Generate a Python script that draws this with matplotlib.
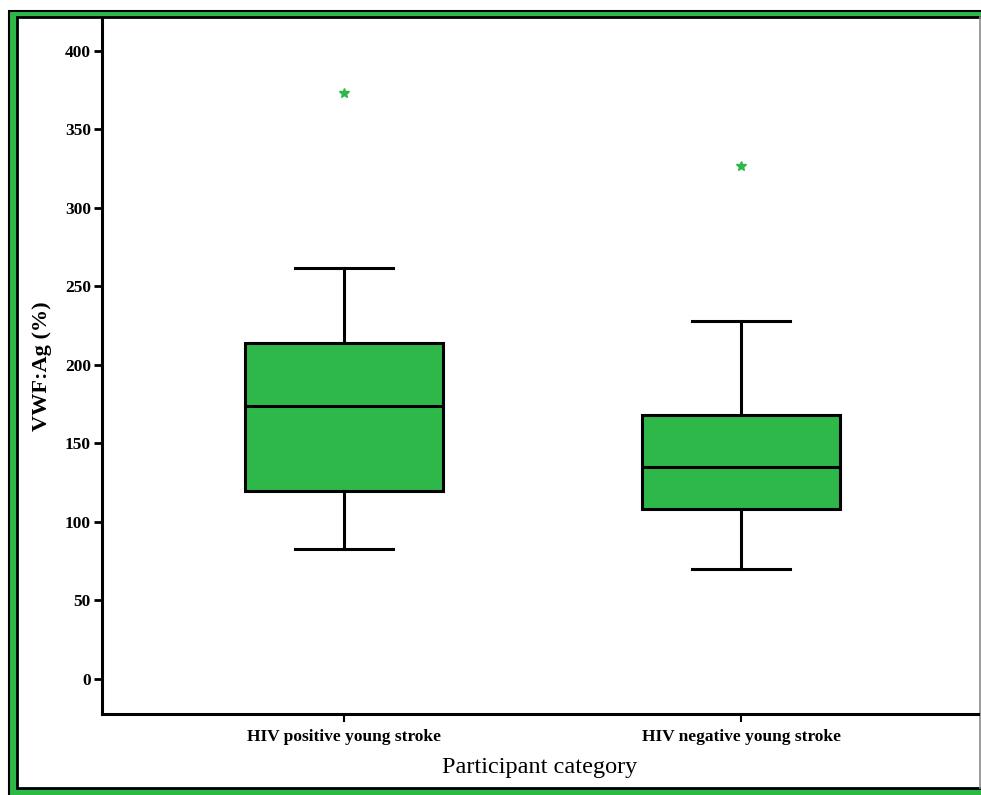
import matplotlib
matplotlib.use("Agg")
import matplotlib.pyplot as plt
from matplotlib.patches import Rectangle
from matplotlib.lines import Line2D

categories = ["HIV positive young stroke", "HIV negative young stroke"]
whislo = [83, 70]
q1 = [120, 108]
med = [174, 135]
q3 = [214, 168]
whishi = [262, 228]
outliers = [[373], [327]]
yticks = [0, 50, 100, 150, 200, 250, 300, 350, 400]

GREEN = "#2fb84a"
W, H = 981, 795
fig = plt.figure(figsize=(W / 100, H / 100), dpi=100)
fig.patch.set_facecolor("white")

# Outer decorative frame (pixel coordinates)
fig.add_artist(Rectangle((9, -10), 1000, H - 11 + 10, transform=None,
                         facecolor=GREEN, edgecolor="black", linewidth=1.5, zorder=-3))
fig.add_artist(Rectangle((17, H - 788), 1000, 788 - 17, transform=None,
                         facecolor="white", edgecolor="black", linewidth=2, zorder=-2))
fig.add_artist(Line2D([979.5, 979.5], [H - 788, H - 17], transform=None,
                      color="#8a8a8a", linewidth=1.2, zorder=-1))

ax = fig.add_axes([102 / W, (H - 714) / H, (978 - 102) / W, (714 - 18) / H])
ax.set_facecolor("none")

stats = []
for i, c in enumerate(categories):
    stats.append(dict(label=c, whislo=whislo[i], q1=q1[i], med=med[i], q3=q3[i],
                      whishi=whishi[i], fliers=outliers[i]))

ax.bxp(stats, positions=[1, 2], widths=0.5, patch_artist=True,
       boxprops=dict(facecolor=GREEN, edgecolor="black", linewidth=2.2),
       medianprops=dict(color="black", linewidth=2.2),
       whiskerprops=dict(color="black", linewidth=2.2),
       capprops=dict(color="black", linewidth=2.2),
       capwidths=0.245,
       flierprops=dict(marker="*", markerfacecolor=GREEN, markeredgecolor=GREEN,
                       markersize=7.5, linestyle="none"))

ax.set_xlim(0.39, 2.597)
ax.set_ylim(-22.3, 421)
ax.set_yticks(yticks)
ax.set_xticks([1, 2])
ax.set_xticklabels(categories)

for s in ["top", "right"]:
    ax.spines[s].set_visible(False)
for s in ["left", "bottom"]:
    ax.spines[s].set_linewidth(2.2)

serif = ["Liberation Serif", "DejaVu Serif"]
ax.tick_params(axis="y", length=6, width=2, labelsize=12.5, pad=2)
ax.tick_params(axis="x", length=6, width=1.5, labelsize=12.5, pad=5)
for lab in ax.get_yticklabels() + ax.get_xticklabels():
    lab.set_fontfamily(serif)
    lab.set_fontweight("bold")

ax.set_ylabel("VWF:Ag (%)", fontsize=16, fontweight="bold", family=serif)
ax.yaxis.set_label_coords((52 - 102) / 876, 0.5)
ax.set_xlabel("Participant category", fontsize=17.5, family=serif)
ax.xaxis.set_label_coords(0.5, -(757 - 714) / 696)

fig.savefig("out.png", dpi=100)
